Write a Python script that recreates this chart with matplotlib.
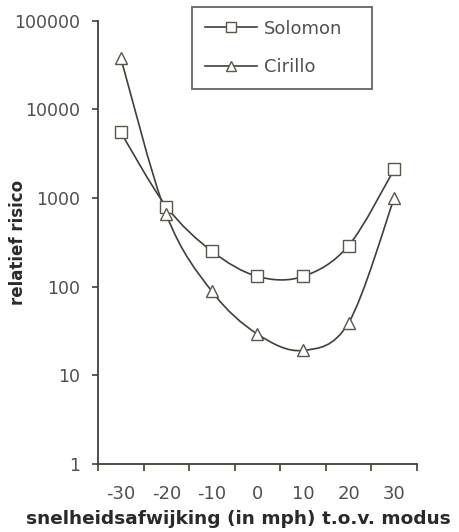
#!/usr/bin/env python3

import matplotlib
import numpy as np

matplotlib.use("Agg")
import matplotlib.pyplot as plt
from matplotlib.lines import Line2D
from matplotlib.patches import PathPatch
from matplotlib.path import Path
from matplotlib.ticker import FixedLocator, NullLocator

# speed deviation (mph) relative to the modal speed
afwijking = [-30, -20, -10, 0, 10, 20, 30]
solomon = [5500, 800, 250, 130, 130, 290, 2100]
cirillo = [38000, 650, 88, 29, 19, 39, 1000]
y_ticks = [1, 10, 100, 1000, 10000, 100000]

LINE = "#433f37"
EDGE = "#5a564c"
TEXT = "#505050"


def smooth_path(xs, ys):
    """Excel-like smoothed line: cubic Bezier between points, built in log-y space."""
    x = np.asarray(xs, dtype=float)
    ly = np.log10(np.asarray(ys, dtype=float))
    n = len(x)
    verts = [(x[0], 10 ** ly[0])]
    codes = [Path.MOVETO]
    for i in range(n - 1):
        i0 = max(i - 1, 0)
        i3 = min(i + 2, n - 1)
        c1x = x[i] + (x[i + 1] - x[i0]) / 6
        c1y = ly[i] + (ly[i + 1] - ly[i0]) / 6
        c2x = x[i + 1] - (x[i3] - x[i]) / 6
        c2y = ly[i + 1] - (ly[i3] - ly[i]) / 6
        verts += [(c1x, 10 ** c1y), (c2x, 10 ** c2y), (x[i + 1], 10 ** ly[i + 1])]
        codes += [Path.CURVE4] * 3
    return Path(verts, codes)


def main() -> int:
    plt.rcParams["font.family"] = ["DejaVu Sans"]

    fig = plt.figure(figsize=(4.59, 5.32), dpi=100)
    ax = fig.add_axes([0.2135, 0.1284, 0.695, 0.8326])
    ax.set_yscale("log")
    ax.set_xlim(-35, 35)
    ax.set_ylim(1, 100000)

    series = [
        ("Solomon", solomon, "s", 8),
        ("Cirillo", cirillo, "^", 8.5),
    ]
    handles = []
    for name, vals, mk, ms in series:
        ax.add_patch(PathPatch(smooth_path(afwijking, vals), fill=False, edgecolor=LINE, lw=1.2, zorder=2))
        ax.plot(afwijking, vals, ls="none", marker=mk, ms=ms, mfc="white", mec=EDGE, mew=1.0, zorder=3)
        handles.append(Line2D([], [], color=LINE, lw=1.2, marker=mk, ms=ms - 1, mfc="white", mec=EDGE, mew=1.0))

    for side in ["top", "right"]:
        ax.spines[side].set_visible(False)
    for side in ["left", "bottom"]:
        ax.spines[side].set_color(LINE)
        ax.spines[side].set_linewidth(1.3)

    ax.yaxis.set_major_locator(FixedLocator(y_ticks))
    ax.yaxis.set_minor_locator(NullLocator())
    ax.set_yticklabels([str(v) for v in y_ticks])
    ax.tick_params(axis="y", direction="out", length=4, width=1.2, color=LINE, labelsize=12.5,
                   labelcolor=TEXT, pad=9)

    # category labels centred, tick marks on the category borders
    ax.xaxis.set_major_locator(FixedLocator(afwijking))
    ax.set_xticklabels([str(v) for v in afwijking])
    ax.xaxis.set_minor_locator(FixedLocator(np.arange(-35, 36, 10)))
    ax.tick_params(axis="x", which="major", length=0, labelsize=13, labelcolor=TEXT, pad=15.5)
    ax.tick_params(axis="x", which="minor", direction="out", length=5, width=1.2, color=LINE)

    ax.set_xlabel("snelheidsafwijking (in mph) t.o.v. modus", fontsize=13.3, fontweight="bold",
                  color="#2a2a2a")
    ax.xaxis.set_label_coords(0.44, -0.104)
    ax.set_ylabel("relatief risico", fontsize=12, fontweight="bold", color="#2a2a2a")
    ax.yaxis.set_label_coords(-0.222, 0.5)

    leg = fig.legend(handles, ["Solomon", "Cirillo"], loc="upper left",
                     bbox_to_anchor=(0.418, 0.825, 0.392, 0.162), mode="expand",
                     fontsize=13, frameon=True, fancybox=False, borderpad=0.7, labelspacing=1.15,
                     handlelength=2.9, handletextpad=0.4, borderaxespad=0, labelcolor=TEXT)
    leg.get_frame().set_edgecolor(LINE)
    leg.get_frame().set_linewidth(1.3)

    fig.savefig("out.png", dpi=100)
    plt.close(fig)
    return 0


if __name__ == "__main__":
    raise SystemExit(main())
